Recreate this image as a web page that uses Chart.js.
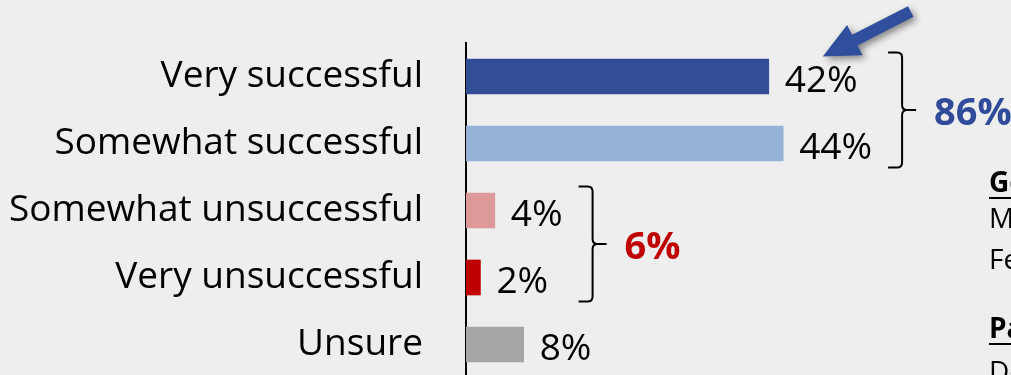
<!DOCTYPE html>
<html><head><meta charset="utf-8">
<script src="https://cdn.jsdelivr.net/npm/chart.js@4/dist/chart.umd.min.js"></script>
<style>
html,body{margin:0;padding:0;background:#eeeeee;overflow:hidden;}
#wrap{position:relative;width:1011px;height:378px;}
</style></head><body>
<div id="wrap"><canvas id="c"></canvas></div>
<script>
// ---- data ----
const categories = ["Very successful", "Somewhat successful", "Somewhat unsuccessful", "Very unsuccessful", "Unsure"];
const values = [42, 44, 4, 2, 8];
const barColors = ["#314E96", "#95B3D7", "#DD9999", "#C00000", "#A6A6A6"];
const successGroup = [0, 1];
const unsuccessGroup = [2, 3];
const groupColors = ["#2F4B9A", "#C00000"];
const sidePanelLines = ["Gender", "Male", "Female", "Party", "Democrat"];
const sidePanelHeadings = [true, false, false, true, false];

const FONT = "'Open Sans', Lato, sans-serif";
const groups = [successGroup, unsuccessGroup];

const annot = {
  id: 'annot',
  afterDatasetsDraw(chart) {
    const { ctx, scales: { x, y } } = chart;
    ctx.save();
    // value labels
    ctx.font = `37px ${FONT}`;
    ctx.fillStyle = '#000';
    ctx.textAlign = 'left';
    ctx.textBaseline = 'alphabetic';
    const labelStart = [], labelEnd = [];
    values.forEach((v, i) => {
      const px = x.getPixelForValue(v) + 16;
      const py = y.getPixelForValue(i) + 15;
      const t = v + '%';
      ctx.fillText(t, px, py);
      labelStart[i] = px;
      labelEnd[i] = px + ctx.measureText(t).width;
    });
    // brackets with totals
    groups.forEach((g, gi) => {
      const ys = g.map(i => y.getPixelForValue(i));
      const top = Math.min(...ys) - 24, bot = Math.max(...ys) + 24, mid = (top + bot) / 2;
      const lx = Math.max(...g.map(i => labelEnd[i])) + 30;
      const r = 5;
      ctx.strokeStyle = '#000';
      ctx.lineWidth = 2;
      ctx.beginPath();
      ctx.moveTo(lx - 14, top);
      ctx.lineTo(lx - r, top);
      ctx.quadraticCurveTo(lx, top, lx, top + r);
      ctx.lineTo(lx, mid - r);
      ctx.quadraticCurveTo(lx, mid, lx + r, mid);
      ctx.lineTo(lx + 14, mid);
      ctx.moveTo(lx + r, mid);
      ctx.quadraticCurveTo(lx, mid, lx, mid + r);
      ctx.lineTo(lx, bot - r);
      ctx.quadraticCurveTo(lx, bot, lx - r, bot);
      ctx.lineTo(lx - 14, bot);
      ctx.stroke();
      const sum = g.reduce((a, i) => a + values[i], 0);
      ctx.font = `bold 38px ${FONT}`;
      ctx.fillStyle = groupColors[gi];
      ctx.fillText(sum + '%', lx + 14 + 18, mid + 15);
    });
    // arrow pointing at the first value label
    const tx = labelStart[0] + 38, ty = y.getPixelForValue(0) - 20;
    const dx = 88, dy = -45, L = Math.hypot(dx, dy);
    const ux = dx / L, uy = dy / L, nx = -uy, ny = ux;
    const hl = 36, hh = 17, sh = 6;
    const bx = tx + ux * hl, by = ty + uy * hl;
    const ex = tx + dx, ey = ty + dy;
    ctx.save();
    ctx.shadowColor = 'rgba(0,0,0,0.45)';
    ctx.shadowBlur = 7;
    ctx.shadowOffsetX = 3;
    ctx.shadowOffsetY = 3;
    ctx.fillStyle = '#2F4E9C';
    ctx.beginPath();
    ctx.moveTo(tx, ty);
    ctx.lineTo(bx + nx * hh, by + ny * hh);
    ctx.lineTo(bx + nx * sh, by + ny * sh);
    ctx.lineTo(ex + nx * sh, ey + ny * sh);
    ctx.lineTo(ex - nx * sh, ey - ny * sh);
    ctx.lineTo(bx - nx * sh, by - ny * sh);
    ctx.lineTo(bx - nx * hh, by - ny * hh);
    ctx.closePath();
    ctx.fill();
    ctx.restore();
    // side panel text (cut off at right edge)
    const baselines = [192, 228, 269, 338, 381];
    sidePanelLines.forEach((t, i) => {
      const head = sidePanelHeadings[i];
      ctx.font = `${head ? 'bold ' : ''}28px ${FONT}`;
      ctx.fillStyle = '#000';
      ctx.fillText(t, 989, baselines[i]);
      if (head) {
        const w = ctx.measureText(t).width;
        ctx.fillRect(989, baselines[i] + 5, w, 2);
      }
    });
    ctx.restore();
  }
};

new Chart(document.getElementById('c'), {
  type: 'bar',
  data: {
    labels: categories,
    datasets: [{ data: values, backgroundColor: barColors, borderWidth: 0, barThickness: 35 }]
  },
  options: {
    indexAxis: 'y',
    responsive: true,
    maintainAspectRatio: false,
    animation: false,
    layout: { padding: { top: 43, right: 0, bottom: 0, left: 0 } },
    plugins: { legend: { display: false }, tooltip: { enabled: false } },
    scales: {
      x: { display: false, min: 0, max: 75.6 },
      y: {
        z: 1,
        grid: { display: false, drawTicks: false },
        border: { display: true, color: '#000', width: 2 },
        ticks: { color: '#000', font: { family: FONT, size: 37 }, padding: 43 },
        afterFit(s) { s.width = 466; s.paddingTop = 0; s.paddingBottom = 0; }
      }
    }
  },
  plugins: [annot]
});
</script>
</body></html>
